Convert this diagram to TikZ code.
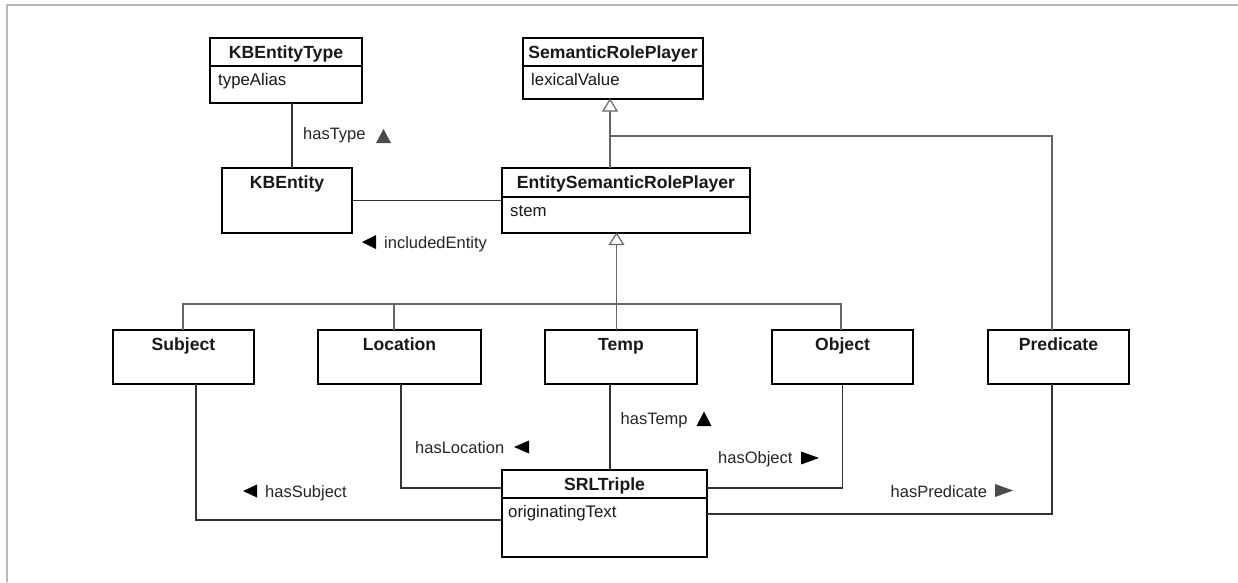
\documentclass[tikz,border=0pt]{standalone}
\usepackage{fontspec}
\setmainfont{Liberation Sans}
\begin{document}
\begin{tikzpicture}[x=1pt,y=-1pt,
  cls/.style={draw=black, line width=1.3pt, fill=white, anchor=north west, inner sep=0pt, outer sep=0pt},
  ttl/.style={anchor=base, font=\fontsize{17.6}{19}\selectfont\bfseries, text=black!90, inner sep=0pt},
  attr/.style={anchor=base west, font=\fontsize{16.8}{18}\selectfont, text=black!90, inner sep=0pt},
  lbl/.style={anchor=base west, font=\fontsize{16.5}{18}\selectfont, text=black!85, inner sep=0pt},
  divider/.style={draw=black, line width=1.3pt},
  gen/.style={draw=black!60, line width=1.3pt},
  assoc/.style={draw=black!80, line width=1.3pt},
  hollow/.style={draw=black!60, line width=1.2pt, fill=white},
  dirtri/.style={fill=black},
  dirgray/.style={fill=black!70},
  frame/.style={draw=black!28, line width=2pt}]
\useasboundingbox (0,0) rectangle (1238,582);
\fill[white] (0,0) rectangle (1238,582);
\draw[frame] (7,582) -- (7,5) -- (1238,5);

% ---------- classes ----------
\node[cls, minimum width=152pt, minimum height=65pt] (kbet) at (210,38) {};
\draw[divider] ([yshift=-28pt]kbet.north west) -- ([yshift=-28pt]kbet.north east);
\node[ttl] (kbetn) at ([yshift=-20.5pt]kbet.north) {KBEntityType};
\node[attr] (kbeta) at ([xshift=8pt,yshift=-47pt]kbet.north west) {typeAlias};

\node[cls, minimum width=180pt, minimum height=61pt] (srp) at (523,38) {};
\draw[divider] ([yshift=-28pt]srp.north west) -- ([yshift=-28pt]srp.north east);
\node[ttl] (srpn) at ([yshift=-20.5pt]srp.north) {SemanticRolePlayer};
\node[attr] (srpa) at ([xshift=8pt,yshift=-47pt]srp.north west) {lexicalValue};

\node[cls, minimum width=130pt, minimum height=65pt] (kbe) at (222,168) {};
\node[ttl] (kben) at ([yshift=-20.5pt]kbe.north) {KBEntity};

\node[cls, minimum width=248pt, minimum height=65pt] (esrp) at (502,168) {};
\draw[divider] ([yshift=-29pt]esrp.north west) -- ([yshift=-29pt]esrp.north east);
\node[ttl] (esrpn) at ([yshift=-20.5pt]esrp.north) {EntitySemanticRolePlayer};
\node[attr] (esrpa) at ([xshift=8pt,yshift=-48pt]esrp.north west) {stem};

\node[cls, minimum width=141pt, minimum height=54pt] (subj) at (113,330) {};
\node[ttl] (subjn) at ([yshift=-20pt]subj.north) {Subject};

\node[cls, minimum width=163pt, minimum height=54pt] (loc) at (318,330) {};
\node[ttl] (locn) at ([yshift=-20pt]loc.north) {Location};

\node[cls, minimum width=152pt, minimum height=54pt] (temp) at (545,330) {};
\node[ttl] (tempn) at ([yshift=-20pt]temp.north) {Temp};

\node[cls, minimum width=141pt, minimum height=54pt] (obj) at (772,330) {};
\node[ttl] (objn) at ([yshift=-20pt]obj.north) {Object};

\node[cls, minimum width=141pt, minimum height=54pt] (pred) at (988,330) {};
\node[ttl] (predn) at ([yshift=-20pt]pred.north) {Predicate};

\node[cls, minimum width=205pt, minimum height=87pt] (srl) at (502,470) {};
\draw[divider] ([yshift=-28pt]srl.north west) -- ([yshift=-28pt]srl.north east);
\node[ttl] (srln) at ([yshift=-20.5pt]srl.north) {SRLTriple};
\node[attr] (srla) at ([xshift=6pt,yshift=-47pt]srl.north west) {originatingText};

% ---------- generalizations ----------
\coordinate (g1) at (610,136);
\coordinate (g1r) at (1052,136);
\coordinate (bl) at (183,304);
\coordinate (br) at (841,304);
\draw[gen] (610,111) -- (610,168);
\draw[gen] (g1) -- (g1r) -- (g1r |- pred.north);
\draw[hollow] (610,99.5) -- (617,111) -- (603,111) -- cycle;

\draw[gen] (616.5,244.5) -- (616.5,330);
\draw[gen] (bl |- subj.north) -- (bl) -- (br) -- (br |- obj.north);
\draw[gen] (394,304) -- (394,330);
\draw[hollow] (616.5,233.5) -- (623.5,244.5) -- (609.5,244.5) -- cycle;

% ---------- associations ----------
\draw[assoc] (292,103) -- (292,168);
\draw[assoc] (kbe.east) -- (esrp.west);
\coordinate (cs) at (196,520);
\draw[assoc] (cs |- subj.south) -- (cs) -- (cs -| srl.west);
\coordinate (cl) at (401,488);
\draw[assoc] (cl |- loc.south) -- (cl) -- (cl -| srl.west);
\draw[assoc] (610,384) -- (610,470);
\coordinate (co) at (842.5,488);
\draw[assoc] (co -| srl.east) -- (co) -- (co |- obj.south);
\coordinate (cp) at (1052,514);
\draw[assoc] (cp -| srl.east) -- (cp) -- (cp |- pred.south);

% ---------- association labels ----------
\node[lbl] (lt) at (303,139.5) {hasType};
\fill[dirgray] (383.5,129) -- (391,143) -- (376,143) -- cycle;

\fill[dirtri] (362,242) -- (376,235) -- (376,249) -- cycle;
\node[lbl] (li) at (384,248) {includedEntity};

\fill[dirtri] (243,491) -- (257,484.5) -- (257,497.5) -- cycle;
\node[lbl] (ls) at (265,497) {hasSubject};

\node[lbl] (ll) at (415,453) {hasLocation};
\fill[dirtri] (514,447) -- (529,440.5) -- (529,453.5) -- cycle;

\node[lbl] (ltm) at (620.5,424) {hasTemp};
\fill[dirtri] (704,411.5) -- (711.5,426) -- (696.5,426) -- cycle;

\node[lbl] (lo) at (718,463) {hasObject};
\fill[dirtri] (819,458) -- (801,451.5) -- (801,464.5) -- cycle;

\node[lbl] (lp) at (890.5,497) {hasPredicate};
\fill[dirgray] (1013,490.5) -- (995,484) -- (995,497) -- cycle;
\end{tikzpicture}
\end{document}
